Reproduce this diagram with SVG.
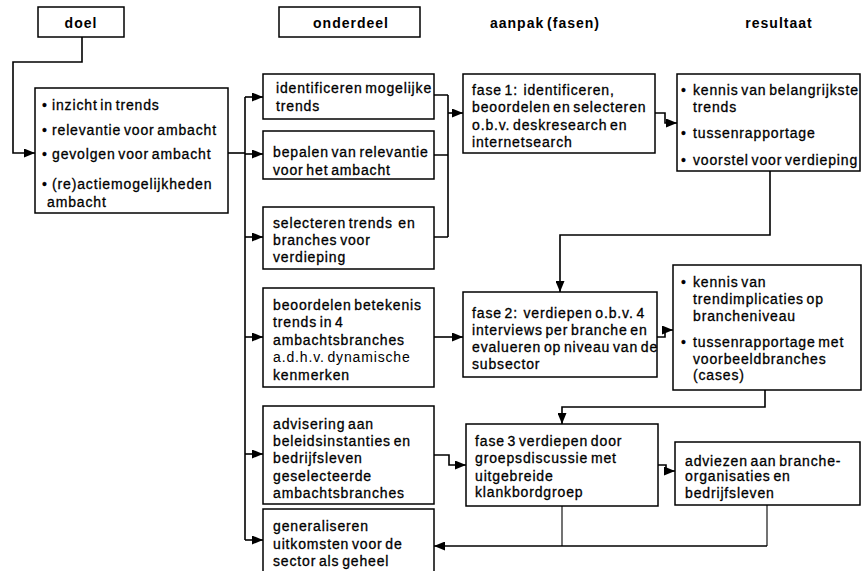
<svg xmlns="http://www.w3.org/2000/svg" width="864" height="571" viewBox="0 0 864 571">
<style>
.box{fill:#fff;stroke:#000;stroke-width:1.5}
.t{font-family:"Liberation Sans",Arial,sans-serif;font-size:14px;fill:#000;stroke:#000;stroke-width:0.3;letter-spacing:0.85px;word-spacing:-2px}
.lt{stroke:none}
.h{font-family:"Liberation Sans",Arial,sans-serif;font-size:14px;font-weight:bold;fill:#000;text-anchor:middle;letter-spacing:1px;word-spacing:-2px}
.c{fill:none;stroke:#000;stroke-width:1.6}
.thin{fill:none;stroke:#000;stroke-width:1.1}
.a{marker-end:url(#arr)}
</style>
<defs>
<marker id="arr" markerUnits="userSpaceOnUse" markerWidth="11" markerHeight="9" refX="11" refY="4.5" orient="auto">
<path d="M0,0 L11,4.5 L0,9 z" fill="#000"/>
</marker>
</defs>
<rect width="864" height="571" fill="#fff"/>

<g id="connectors">
<path class="c a" d="M82,37 V62 H13 V153 H35"/>
<path class="c" d="M228,153 H245"/>
<path class="c" d="M245,97 V540"/>
<path class="c a" d="M245,97 H263"/>
<path class="c a" d="M245,154 H263"/>
<path class="c a" d="M245,237 H263"/>
<path class="c a" d="M245,337 H263"/>
<path class="c a" d="M245,454 H263"/>
<path class="c a" d="M245,540 H263"/>
<path class="c" d="M434,95 H448 M434,155 H448 M434,237 H448 M448,95 V237"/>
<path class="c a" d="M448,113 H463"/>
<path class="c a" d="M655,113 H665 V123 H677"/>
<path class="c a" d="M770,171 V235 H560 V292"/>
<path class="c a" d="M434,337 H463"/>
<path class="c a" d="M657,337 H665 V330 H673"/>
<path class="c a" d="M765,390 V407 H562 V424"/>
<path class="c a" d="M434,455 H449 V465 H466"/>
<path class="c a" d="M658,465 H666 V471 H675"/>
<path class="thin" d="M562,506 V546 M767,505 V546"/>
<path class="c a" d="M767,546 H434"/>
</g>

<g id="hdr-doel">
<rect class="box" x="38" y="7" width="86" height="30"/>
<text class="h" x="81" y="28">doel</text>
</g>
<g id="hdr-onderdeel">
<rect class="box" x="279" y="7" width="141" height="30"/>
<text class="h" x="351" y="28">onderdeel</text>
</g>
<g id="hdr-aanpak">
<text class="h" x="545" y="28">aanpak (fasen)</text>
</g>
<g id="hdr-resultaat">
<text class="h" x="779" y="28">resultaat</text>
</g>

<g id="doel">
<rect class="box" x="35" y="88" width="193" height="125"/>
<text class="t">
<tspan x="42" y="110">•</tspan><tspan x="52" y="110">inzicht in trends</tspan>
<tspan x="42" y="135">•</tspan><tspan x="52" y="135">relevantie voor ambacht</tspan>
<tspan x="42" y="159">•</tspan><tspan x="52" y="159">gevolgen voor ambacht</tspan>
<tspan x="42" y="189">•</tspan><tspan x="52" y="189">(re)actiemogelijkheden</tspan>
<tspan x="47" y="207">ambacht</tspan>
</text>
</g>

<g id="o1">
<rect class="box" x="263" y="74" width="171" height="45"/>
<text class="t"><tspan x="276" y="93">identificeren mogelijke</tspan><tspan x="276" y="111">trends</tspan></text>
</g>
<g id="o2">
<rect class="box" x="263" y="131" width="171" height="48"/>
<text class="t"><tspan x="273" y="157">bepalen van relevantie</tspan><tspan x="273" y="175">voor het ambacht</tspan></text>
</g>
<g id="o3">
<rect class="box" x="263" y="207" width="171" height="62"/>
<text class="t"><tspan x="273" y="228">selecteren trends&#160; en</tspan><tspan x="273" y="245">branches voor</tspan><tspan x="273" y="262">verdieping</tspan></text>
</g>
<g id="o4">
<rect class="box" x="263" y="288" width="171" height="99"/>
<text class="t"><tspan x="273" y="310">beoordelen betekenis</tspan><tspan x="273" y="327">trends in 4</tspan><tspan x="273" y="345">ambachtsbranches</tspan><tspan class="lt" x="273" y="362">a.d.h.v. dynamische</tspan><tspan x="273" y="380">kenmerken</tspan></text>
</g>
<g id="o5">
<rect class="box" x="263" y="406" width="171" height="98"/>
<text class="t"><tspan x="273" y="429">advisering aan</tspan><tspan x="273" y="446">beleidsinstanties en</tspan><tspan x="273" y="463">bedrijfsleven</tspan><tspan x="273" y="481">geselecteerde</tspan><tspan x="273" y="498">ambachtsbranches</tspan></text>
</g>
<g id="o6">
<rect class="box" x="263" y="509" width="171" height="70"/>
<text class="t"><tspan x="273" y="531">generaliseren</tspan><tspan x="273" y="549">uitkomsten voor de</tspan><tspan x="273" y="566">sector als geheel</tspan></text>
</g>

<g id="fase1">
<rect class="box" x="463" y="74" width="192" height="79"/>
<text class="t"><tspan x="472" y="95">fase 1:&#160; identificeren,</tspan><tspan x="472" y="112">beoordelen en selecteren</tspan><tspan x="472" y="130">o.b.v. deskresearch en</tspan><tspan x="472" y="147">internetsearch</tspan></text>
</g>
<g id="fase2">
<rect class="box" x="463" y="292" width="194" height="85"/>
<text class="t"><tspan x="472" y="318">fase 2:&#160; verdiepen o.b.v. 4</tspan><tspan x="472" y="335">interviews per branche en</tspan><tspan x="472" y="352">evalueren op niveau van de</tspan><tspan x="472" y="369">subsector</tspan></text>
</g>
<g id="fase3">
<rect class="box" x="466" y="424" width="192" height="82"/>
<text class="t"><tspan x="475" y="446">fase 3 verdiepen door</tspan><tspan x="475" y="463">groepsdiscussie met</tspan><tspan x="475" y="481">uitgebreide</tspan><tspan x="475" y="497">klankbordgroep</tspan></text>
</g>

<g id="res1">
<rect class="box" x="677" y="74" width="183" height="97"/>
<text class="t">
<tspan x="681" y="95">•</tspan><tspan x="693" y="95">kennis van belangrijkste</tspan>
<tspan x="693" y="112">trends</tspan>
<tspan x="681" y="138">•</tspan><tspan x="693" y="138">tussenrapportage</tspan>
<tspan x="681" y="165">•</tspan><tspan x="693" y="165">voorstel voor verdieping</tspan>
</text>
</g>
<g id="res2">
<rect class="box" x="673" y="265" width="188" height="125"/>
<text class="t">
<tspan x="681" y="287">•</tspan><tspan x="693" y="287">kennis van</tspan>
<tspan x="693" y="304">trendimplicaties op</tspan>
<tspan x="693" y="321">brancheniveau</tspan>
<tspan x="681" y="347">•</tspan><tspan x="693" y="347">tussenrapportage met</tspan>
<tspan x="693" y="364">voorbeeldbranches</tspan>
<tspan x="693" y="380">(cases)</tspan>
</text>
</g>
<g id="res3">
<rect class="box" x="675" y="442" width="185" height="63"/>
<text class="t"><tspan x="685" y="466">adviezen aan branche-</tspan><tspan x="685" y="481">organisaties en</tspan><tspan x="685" y="498">bedrijfsleven</tspan></text>
</g>
</svg>
